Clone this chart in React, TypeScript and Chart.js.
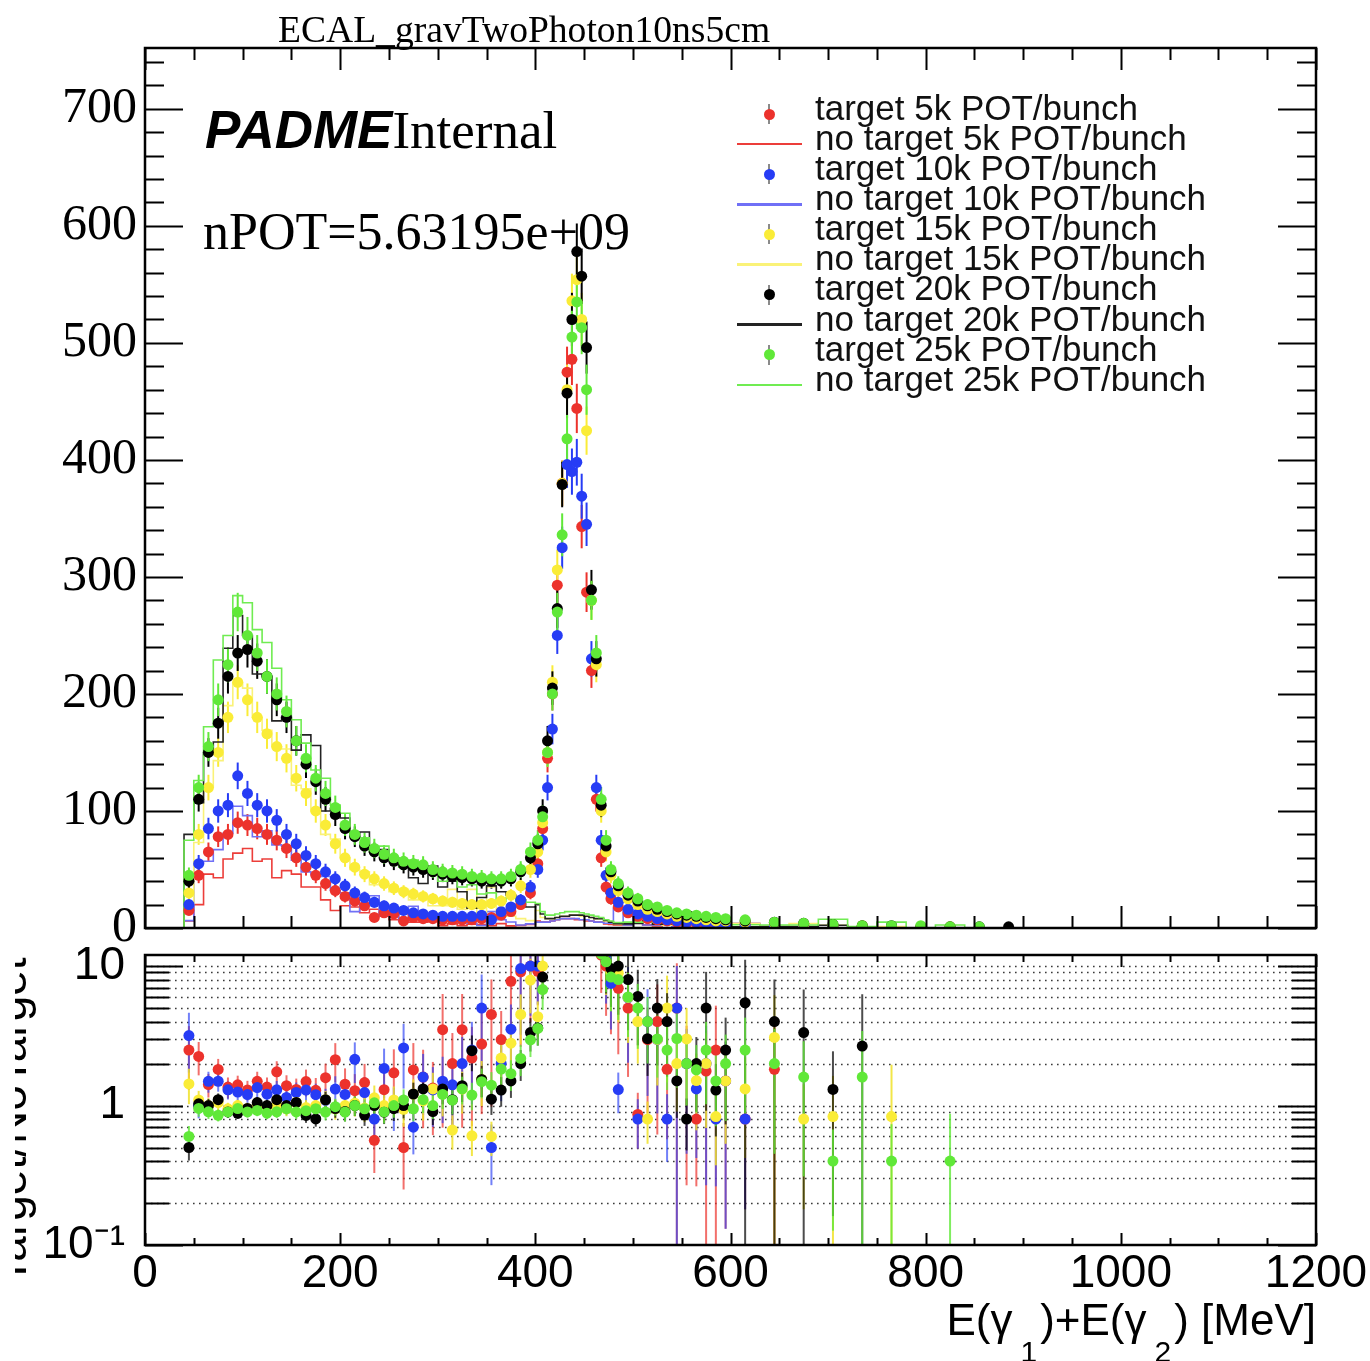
import React, { useEffect, useRef } from 'react';
import { Chart, registerables } from 'chart.js';

Chart.register(...registerables);

// ---------------- data ----------------
const X_MIN = 0;
const X_MAX = 1200;
const Y_TOP_MAX = 752;
const RATIO_MIN = 0.1;
const RATIO_MAX = 12;

// histogram bin edges (MeV)
const binEdges = [
  40, 50, 60, 70, 80, 90, 100, 110, 120, 130, 140, 150, 160, 170, 180, 190, 200, 210, 220, 230,
  240, 250, 260, 270, 280, 290, 300, 310, 320, 330, 340, 350, 360, 370, 380, 390, 400,
  405, 410, 415, 420, 425, 430, 435, 440, 445, 450, 455, 460, 465, 470, 475, 480,
  490, 500, 510, 520, 530, 540, 550, 560, 570, 580, 590, 600,
  630, 660, 690, 720, 750, 780, 810, 840, 870, 900,
];

const seriesNames = ['5k', '10k', '15k', '20k', '25k'];

const target5k = [
  15, 45, 65, 78, 80, 90, 88, 85, 80, 75, 68, 60, 52, 45, 38, 32, 27, 23, 19, 9,
  13, 12, 6, 9, 8, 8, 7, 7, 7, 7, 8, 9, 11, 14, 20, 30,
  55, 85, 145, 200, 293, 380, 475, 486, 444, 343, 287, 220, 110, 60, 35, 25,
  18, 13, 10, 8, 7, 6, 5, 4, 4, 3, 3, 3,
  3, 2, 2, 1, 1, 0, 0, 0, 0, 0,
];
const noTarget5k = [
  6, 20, 46, 43, 59, 64, 68, 57, 59, 43, 49, 46, 35, 35, 24, 15, 19, 18, 13, 16,
  10, 7, 12, 5, 5, 6, 2, 3.5, 2, 3.2, 2.9, 2, 3.7, 1.8, 2.2, 3,
  6, 5, 5, 6, 7, 8, 8, 8, 7, 7, 6, 6, 5, 5, 3.5, 3,
  2.6, 2.6, 11.6, 2.7, 1.75, 3.3, 1, 2, 5, 1.7, 1.2, 2,
  3.75, 1.1, 0, 0, 0, 0, 0, 0, 0, 0,
];

const target10k = [
  20, 55, 85, 100, 105, 130, 115, 105, 100, 92, 80, 72, 62, 55, 48, 42, 36, 30, 26, 22,
  19, 17, 15, 13, 12, 11, 10, 10, 10, 10, 11, 7, 14, 18, 24, 35,
  50, 75, 120, 170, 250, 325, 396, 390, 398, 369, 345, 230, 120, 75, 45, 30,
  22, 16, 12, 10, 8, 7, 6, 5, 5, 4, 4, 3,
  3, 2, 2, 1, 1, 1, 0, 0, 0, 0,
];
const noTarget10k = [
  6.3, 55, 57, 67, 81, 104, 96, 78, 83, 71, 70, 58, 48, 46, 44, 32, 30, 14, 21, 27.5,
  10.3, 17, 5.8, 18.6, 7.5, 8.5, 6.7, 7.1, 5, 4, 2.2, 14, 7, 5.1, 2.5, 3.5,
  5, 5, 5, 6, 7, 8, 8, 8, 8, 7, 7, 6, 5, 5, 4, 4,
  16.9, 2.7, 15, 2.5, 2.7, 8.75, 1.2, 2.5, 3.8, 2, 5, 2,
  3.75, 0, 0, 0, 0, 0, 0, 0, 0, 0,
];

const target15k = [
  30, 80, 120, 150, 180, 210, 195, 180, 166, 155, 145, 128, 115, 100, 88, 72, 60, 52, 46, 42,
  38, 34, 31, 29, 27, 25, 23, 22, 21, 20, 20, 21, 23, 28, 36, 50,
  65, 90, 150, 210, 306, 380, 460, 536, 554, 520, 425, 280, 225, 100, 65, 45,
  32, 25, 20, 16, 14, 12, 10, 9, 8, 7, 6, 6,
  5, 4, 3, 2, 2, 1, 1, 1, 0, 0,
];
const noTarget15k = [
  21, 73, 120, 143, 190, 210, 205, 180, 169, 155, 153, 122, 119, 100, 80, 76, 60, 50, 48, 37,
  38, 31, 33, 24, 25, 19, 19, 33, 16, 33, 13, 35, 10.5, 10, 8, 6.3,
  15, 9, 8, 8, 9, 10, 10, 11, 11, 10, 10, 9, 8, 8, 6, 5,
  3.6, 4.2, 5, 20, 4.7, 2.4, 5, 3, 5.3, 3.5, 7.2, 4,
  3.8, 1.3, 3.75, 2.4, 0, 1.2, 0, 0, 0, 0,
];

const target20k = [
  40, 110, 150, 175, 215, 235, 238, 228, 215, 195, 180, 160, 140, 125, 110, 97, 85, 78, 70, 65,
  60, 57, 54, 52, 50, 48, 46, 44, 43, 42, 40, 40, 40, 42, 48, 60,
  72, 100, 160, 205, 273, 379, 457, 520, 578, 557, 496, 289, 230, 105, 70, 48,
  36, 28, 23, 19, 16, 14, 12, 11, 10, 9, 8, 7,
  6, 5, 4, 3, 2, 2, 1, 1, 1, 1,
];
const noTarget20k = [
  80, 107, 150, 159, 239, 267, 250, 217, 215, 177, 180, 152, 165, 156, 100, 102, 94, 78, 82, 65,
  67, 60, 54, 43, 38, 53, 35, 40, 31, 17, 26, 36, 31, 28, 24, 18,
  20, 12, 8, 8, 9, 10, 10, 11, 11, 11, 10, 9, 8, 8, 6.5, 5,
  3.6, 3.5, 3.8, 6.3, 3.2, 3.5, 8, 13.75, 5, 1.8, 6.2, 2.8,
  1.1, 1.25, 1.2, 2.3, 0.75, 0, 0, 0, 0, 0,
];

const target25k = [
  45, 120, 155, 195, 225, 270, 250, 235, 215, 200, 185, 160, 145, 128, 115, 103, 88, 80, 73, 68,
  63, 60, 57, 55, 54, 50, 48, 47, 46, 44, 43, 42, 42, 44, 50, 65,
  75, 95, 150, 200, 270, 336, 418, 505, 535, 513, 460, 280, 235, 110, 75, 50,
  38, 30, 25, 20, 18, 15, 13, 12, 11, 10, 9, 8,
  7, 5, 4, 3, 2, 2, 2, 1, 1, 0,
];
const noTarget25k = [
  75, 126, 172, 229, 250, 284, 278, 255, 244, 222, 195, 178, 158, 135, 128, 105, 98, 80, 77, 65,
  70, 60, 52, 58, 49, 50, 40, 43, 35, 37, 29, 30, 23, 26, 23, 22,
  21, 14, 11, 11, 12, 13, 14, 14, 14, 13, 12, 11, 10, 9, 7, 6,
  4.75, 5, 5, 5, 6, 6, 4.3, 6, 6.1, 4, 6, 4,
  2.8, 2.5, 2.5, 7.5, 1.25, 5, 0, 2.5, 0, 0,
];

const targetSeries = [target5k, target10k, target15k, target20k, target25k];
const noTargetSeries = [noTarget5k, noTarget10k, noTarget15k, noTarget20k, noTarget25k];

const topYTicks = [0, 100, 200, 300, 400, 500, 600, 700];
const xTickLabels = [0, 200, 400, 600, 800, 1000, 1200];
const ratioTickLabels = [0.1, 1, 10];

// ---------------- styles ----------------
const COLORS = ['rgb(236,50,44)', 'rgb(38,60,245)', 'rgb(250,236,55)', 'rgb(0,0,0)', 'rgb(96,232,56)'];
const LINE_COLORS = ['rgb(236,62,58)', 'rgb(112,112,246)', 'rgb(250,242,120)', 'rgb(35,35,35)', 'rgb(112,236,82)'];
const RATIO_ERR_COLORS = ['rgba(236,50,44,0.7)', 'rgba(38,60,245,0.65)', 'rgba(240,226,40,0.85)', 'rgba(0,0,0,0.7)', 'rgba(96,232,56,0.8)'];
const DRAW_ORDER = [4, 3, 2, 1, 0];
const SANS = '"Liberation Sans", Arial, Helvetica, sans-serif';
const SERIF = '"Liberation Serif", "Times New Roman", serif';

const centers = binEdges.slice(0, -1).map((e, i) => (e + binEdges[i + 1]) / 2);

function stepData(vals: number[]) {
  const pts: { x: number; y: number }[] = [{ x: X_MIN, y: 0 }, { x: binEdges[0], y: 0 }];
  vals.forEach((v, i) => {
    pts.push({ x: binEdges[i], y: v }, { x: binEdges[i + 1], y: v });
  });
  pts.push({ x: binEdges[binEdges.length - 1], y: 0 }, { x: X_MAX, y: 0 });
  return pts;
}

function range(a: number, b: number, step: number) {
  const out: number[] = [];
  for (let v = a; v <= b + 1e-9; v += step) out.push(v);
  return out;
}

const rootFrame = {
  id: 'rootFrame',
  beforeDatasetsDraw(chart: any) {
    const cfg = chart.options.plugins.rootFrame;
    const { ctx, chartArea: a } = chart;
    const xs = chart.scales.x;
    const ys = chart.scales.y;
    ctx.save();
    ctx.beginPath();
    ctx.rect(a.left, a.top, a.right - a.left, a.bottom - a.top);
    ctx.clip();
    if (cfg.grid) {
      ctx.strokeStyle = '#3a3a3a';
      ctx.lineWidth = 1.6;
      ctx.setLineDash([1.6, 4.4]);
      for (const v of cfg.grid) {
        const y = Math.round(ys.getPixelForValue(v)) + 0.5;
        ctx.beginPath();
        ctx.moveTo(a.left, y);
        ctx.lineTo(a.right, y);
        ctx.stroke();
      }
      ctx.setLineDash([]);
    }
    chart.data.datasets.forEach((ds: any) => {
      if (!ds.errLo) return;
      ctx.strokeStyle = ds.errColor;
      ctx.lineWidth = 2;
      ds.data.forEach((p: any, j: number) => {
        if (p.y > ys.max || p.y < ys.min) return;
        const x = xs.getPixelForValue(p.x);
        const loV = ds.errLo[j];
        const lo = loV <= ys.min ? a.bottom + 2 : ys.getPixelForValue(loV);
        const hiV = ds.errHi[j];
        const hi = hiV >= ys.max ? a.top - 2 : ys.getPixelForValue(hiV);
        ctx.beginPath();
        ctx.moveTo(x, lo);
        ctx.lineTo(x, hi);
        ctx.stroke();
      });
    });
    ctx.restore();
  },
  afterDraw(chart: any) {
    const cfg = chart.options.plugins.rootFrame;
    const { ctx, chartArea: a } = chart;
    const xs = chart.scales.x;
    const ys = chart.scales.y;
    ctx.save();
    ctx.strokeStyle = '#000';
    ctx.lineWidth = 2;
    const xt = (vals: number[], len: number) => {
      for (const v of vals) {
        const x = Math.round(xs.getPixelForValue(v)) + 0.5;
        ctx.beginPath();
        ctx.moveTo(x, a.bottom);
        ctx.lineTo(x, a.bottom - len);
        ctx.moveTo(x, a.top);
        ctx.lineTo(x, a.top + len);
        ctx.stroke();
      }
    };
    const yt = (vals: number[], len: number) => {
      for (const v of vals) {
        const y = Math.round(ys.getPixelForValue(v)) + 0.5;
        ctx.beginPath();
        ctx.moveTo(a.left, y);
        ctx.lineTo(a.left + len, y);
        ctx.moveTo(a.right, y);
        ctx.lineTo(a.right - len, y);
        ctx.stroke();
      }
    };
    xt(cfg.xMaj, cfg.xMajLen);
    xt(cfg.xMin, cfg.xMinLen);
    yt(cfg.yMaj, cfg.yMajLen);
    yt(cfg.yMin, cfg.yMinLen);
    ctx.lineWidth = 2.5;
    ctx.strokeRect(a.left, a.top, a.right - a.left, a.bottom - a.top);
    ctx.restore();
  },
};

const xMajorTicks = range(0, 1200, 200);
const xMinorTicks = range(0, 1200, 50).filter((v) => v % 200 !== 0);

function topConfig(): any {
  const lines: any[] = [];
  const points: any[] = [];
  seriesNames.forEach((name, i) => {
    lines.push({
      type: 'line',
      label: `no target ${name} POT/bunch`,
      data: stepData(noTargetSeries[i]),
      borderColor: LINE_COLORS[i],
      borderWidth: 1.6,
      pointRadius: 0,
      fill: false,
      tension: 0,
      order: 5 + DRAW_ORDER[i],
    });
    const pts: any[] = [];
    const lo: number[] = [];
    const hi: number[] = [];
    centers.forEach((c, j) => {
      const t = targetSeries[i][j];
      if (t > 0) {
        const e = Math.sqrt(t);
        pts.push({ x: c, y: t });
        lo.push(t - e);
        hi.push(t + e);
      }
    });
    points.push({
      type: 'scatter',
      label: `target ${name} POT/bunch`,
      data: pts,
      pointRadius: 5.5,
      pointBorderWidth: 0,
      backgroundColor: COLORS[i],
      borderColor: COLORS[i],
      order: DRAW_ORDER[i],
      errLo: lo,
      errHi: hi,
      errColor: COLORS[i],
    });
  });
  return {
    type: 'scatter',
    data: { datasets: [...points, ...lines] },
    options: {
      animation: false,
      responsive: false,
      devicePixelRatio: 1,
      events: [],
      layout: { padding: { left: 0, top: 48, right: 54, bottom: 1361 - 928 } },
      plugins: {
        legend: { display: false },
        tooltip: { enabled: false },
        rootFrame: {
          xMaj: xMajorTicks,
          xMin: xMinorTicks,
          xMajLen: 22,
          xMinLen: 12,
          yMaj: topYTicks,
          yMin: range(0, 740, 20).filter((v) => v % 100 !== 0),
          yMajLen: 38,
          yMinLen: 19,
        },
      },
      scales: {
        x: { type: 'linear', min: X_MIN, max: X_MAX, display: false },
        y: {
          type: 'linear',
          min: 0,
          max: Y_TOP_MAX,
          grid: { display: false, drawTicks: false },
          border: { display: false },
          afterBuildTicks: (s: any) => {
            s.ticks = topYTicks.map((value) => ({ value }));
          },
          afterFit: (s: any) => {
            s.width = 145;
          },
          ticks: {
            font: { family: SERIF, size: 50 },
            color: '#000',
            padding: 8,
          },
        },
      },
    },
    plugins: [rootFrame],
  };
}

function botConfig(): any {
  const datasets: any[] = [];
  seriesNames.forEach((name, i) => {
    const pts: any[] = [];
    const lo: number[] = [];
    const hi: number[] = [];
    centers.forEach((c, j) => {
      const t = targetSeries[i][j];
      const n = noTargetSeries[i][j];
      if (t > 0 && n > 0) {
        const r = t / n;
        const e = r * Math.sqrt(1 / t + 1 / n);
        pts.push({ x: c, y: r });
        lo.push(r - e);
        hi.push(r + e);
      }
    });
    datasets.push({
      type: 'scatter',
      label: `target/no target ${name}`,
      data: pts,
      pointRadius: 5.5,
      pointBorderWidth: 0,
      backgroundColor: COLORS[i],
      borderColor: COLORS[i],
      order: DRAW_ORDER[i],
      errLo: lo,
      errHi: hi,
      errColor: RATIO_ERR_COLORS[i],
      clip: 0,
    });
  });
  const gridVals = [
    0.2, 0.3, 0.4, 0.5, 0.6, 0.7, 0.8, 0.9, 1, 2, 3, 4, 5, 6, 7, 8, 9, 10,
  ];
  return {
    type: 'scatter',
    data: { datasets },
    options: {
      animation: false,
      responsive: false,
      devicePixelRatio: 1,
      events: [],
      layout: { padding: { left: 0, top: 955, right: 54, bottom: 0 } },
      plugins: {
        legend: { display: false },
        tooltip: { enabled: false },
        rootFrame: {
          grid: gridVals,
          xMaj: xMajorTicks,
          xMin: xMinorTicks,
          xMajLen: 12,
          xMinLen: 7,
          yMaj: ratioTickLabels,
          yMin: gridVals.filter((v) => v !== 1 && v !== 10),
          yMajLen: 38,
          yMinLen: 24,
        },
      },
      scales: {
        x: {
          type: 'linear',
          min: X_MIN,
          max: X_MAX,
          grid: { display: false, drawTicks: false },
          border: { display: false },
          afterBuildTicks: (s: any) => {
            s.ticks = xTickLabels.map((value) => ({ value }));
          },
          afterFit: (s: any) => {
            s.height = 116;
          },
          ticks: {
            font: { family: SANS, size: 46 },
            color: '#000',
            padding: 2,
            maxRotation: 0,
            autoSkip: false,
            callback: (v: any) => String(v),
          },
        },
        y: {
          type: 'logarithmic',
          min: RATIO_MIN,
          max: RATIO_MAX,
          grid: { display: false, drawTicks: false },
          border: { display: false },
          afterBuildTicks: (s: any) => {
            s.ticks = ratioTickLabels.map((value) => ({ value }));
          },
          afterFit: (s: any) => {
            s.width = 145;
          },
          ticks: {
            font: { family: SANS, size: 46 },
            color: '#000',
            padding: 20,
            callback: (v: any) => {
              const n = Number(v);
              if (Math.abs(n - 10) < 1e-6) return '10';
              if (Math.abs(n - 1) < 1e-6) return '1';
              return '10\u207B\u00B9';
            },
          },
        },
      },
    },
    plugins: [rootFrame],
  };
}

const LEGEND_X_SYMBOL = 769;
const LEGEND_LINE_X0 = 737;
const LEGEND_LINE_X1 = 802;
const LEGEND_TEXT_X = 815;
const LEGEND_BASE0 = 119.5;
const LEGEND_STEP = 30.1;
const LEGEND_FONT = 35;

function Legend() {
  const items: React.ReactNode[] = [];
  seriesNames.forEach((name, i) => {
    const rows = [
      { kind: 'pt', text: `target ${name} POT/bunch` },
      { kind: 'ln', text: `no target ${name} POT/bunch` },
    ];
    rows.forEach((r, k) => {
      const idx = i * 2 + k;
      const base = LEGEND_BASE0 + LEGEND_STEP * idx;
      const cy = base - 5.5;
      if (r.kind === 'pt') {
        items.push(
          <div key={`eb${idx}`} style={{ position: 'absolute', left: LEGEND_X_SYMBOL - 1, top: cy - 10, width: 2, height: 20, background: '#8a8a8a' }} />,
          <div key={`pt${idx}`} style={{ position: 'absolute', left: LEGEND_X_SYMBOL - 5.5, top: cy - 5.5, width: 11, height: 11, borderRadius: '50%', background: COLORS[i] }} />,
        );
      } else {
        items.push(
          <div key={`ln${idx}`} style={{ position: 'absolute', left: LEGEND_LINE_X0, top: cy - 1.25, width: LEGEND_LINE_X1 - LEGEND_LINE_X0, height: 2.5, background: LINE_COLORS[i] }} />,
        );
      }
      items.push(
        <div key={`tx${idx}`} style={{ position: 'absolute', left: LEGEND_TEXT_X, top: base - 0.8465 * LEGEND_FONT, fontFamily: SANS, fontSize: LEGEND_FONT, lineHeight: `${LEGEND_FONT}px`, whiteSpace: 'nowrap', color: '#111' }}>
          {r.text}
        </div>,
      );
    });
  });
  return <>{items}</>;
}

export default function App() {
  const topRef = useRef<HTMLCanvasElement>(null);
  const botRef = useRef<HTMLCanvasElement>(null);
  useEffect(() => {
    const top = new Chart(topRef.current as HTMLCanvasElement, topConfig());
    const bot = new Chart(botRef.current as HTMLCanvasElement, botConfig());
    return () => {
      top.destroy();
      bot.destroy();
    };
  }, []);
  const canvasStyle: React.CSSProperties = { position: 'absolute', left: 0, top: 0, width: 1370, height: 1361 };
  const subStyle: React.CSSProperties = { fontSize: 30, position: 'relative', top: 27, padding: '0 3px 0 8px' };
  return (
    <div style={{ position: 'absolute', left: 0, top: 0, width: 1370, height: 1361, background: '#fff', overflow: 'hidden' }}>
      <canvas ref={botRef} width={1370} height={1361} style={canvasStyle} />
      <canvas ref={topRef} width={1370} height={1361} style={canvasStyle} />
      <div style={{ position: 'absolute', left: 278, top: 11, fontFamily: SERIF, fontSize: 37.6, lineHeight: '37.6px', whiteSpace: 'nowrap', color: '#000' }}>
        ECAL_gravTwoPhoton10ns5cm
      </div>
      <div style={{ position: 'absolute', left: 205, top: 103, fontSize: 53, lineHeight: '53px', whiteSpace: 'nowrap', color: '#000' }}>
        <span style={{ fontFamily: SANS, fontWeight: 'bold', fontStyle: 'italic' }}>PADME</span>
        <span style={{ fontFamily: SERIF }}>Internal</span>
      </div>
      <div style={{ position: 'absolute', left: 203, top: 206, fontFamily: SERIF, fontSize: 52, lineHeight: '52px', whiteSpace: 'nowrap', color: '#000' }}>
        nPOT=5.63195e+09
      </div>
      <Legend />
      <div style={{ position: 'absolute', right: 1370 - 1316, top: 1298, fontFamily: SANS, fontSize: 44, lineHeight: '44px', whiteSpace: 'nowrap', color: '#000' }}>
        E(γ<span style={subStyle}>1</span>)+E(γ<span style={subStyle}>2</span>) [MeV]
      </div>
      <div style={{ position: 'absolute', left: 15, top: 0, width: 40, height: 1361, overflow: 'hidden' }}>
        <div style={{ position: 'absolute', left: 10 - 200 - 15, top: 1121 - 23, width: 400, height: 46, textAlign: 'center', fontFamily: SANS, fontSize: 46, lineHeight: '46px', whiteSpace: 'nowrap', color: '#000', transform: 'rotate(-90deg)' }}>
          Target/NoTarget
        </div>
      </div>
    </div>
  );
}
